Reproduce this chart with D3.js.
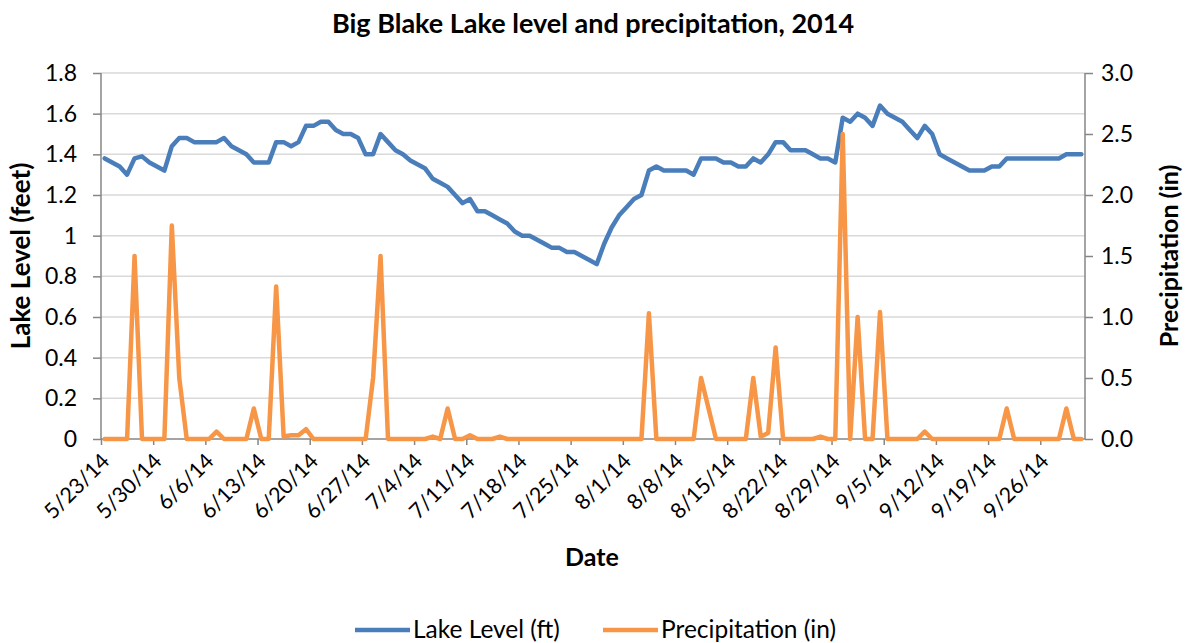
<!DOCTYPE html>
<html>
<head>
<meta charset="utf-8">
<script src="https://cdn.jsdelivr.net/npm/d3@7"></script>
<style>
	body { margin: 0; background: #fff; }
	svg text { font-family: Lato, "Open Sans", sans-serif; fill: #000; }
</style>
</head>
<body>
<div id="chart"></div>
<script>
(function () {
	'use strict';

	// one value per day, from 5/23/14 to 10/1/14
	var startDate = '5/23/14';
	var endDate = '10/2/14';

	var lakeLevel = [
		1.38, 1.36, 1.34, 1.30, 1.38, 1.39, 1.36, 1.34, 1.32, 1.44,
		1.48, 1.48, 1.46, 1.46, 1.46, 1.46, 1.48, 1.44, 1.42, 1.40,
		1.36, 1.36, 1.36, 1.46, 1.46, 1.44, 1.46, 1.54, 1.54, 1.56,
		1.56, 1.52, 1.50, 1.50, 1.48, 1.40, 1.40, 1.50, 1.46, 1.42,
		1.40, 1.37, 1.35, 1.33, 1.28, 1.26, 1.24, 1.20, 1.16, 1.18,
		1.12, 1.12, 1.10, 1.08, 1.06, 1.02, 1.00, 1.00, 0.98, 0.96,
		0.94, 0.94, 0.92, 0.92, 0.90, 0.88, 0.86, 0.96, 1.04, 1.10,
		1.14, 1.18, 1.20, 1.32, 1.34, 1.32, 1.32, 1.32, 1.32, 1.30,
		1.38, 1.38, 1.38, 1.36, 1.36, 1.34, 1.34, 1.38, 1.36, 1.40,
		1.46, 1.46, 1.42, 1.42, 1.42, 1.40, 1.38, 1.38, 1.36, 1.58,
		1.56, 1.60, 1.58, 1.54, 1.64, 1.60, 1.58, 1.56, 1.52, 1.48,
		1.54, 1.50, 1.40, 1.38, 1.36, 1.34, 1.32, 1.32, 1.32, 1.34,
		1.34, 1.38, 1.38, 1.38, 1.38, 1.38, 1.38, 1.38, 1.38, 1.40,
		1.40, 1.40
	];

	var precipitation = [
		0, 0, 0, 0, 1.50, 0, 0, 0, 0, 1.75,
		0.50, 0, 0, 0, 0, 0.06, 0, 0, 0, 0,
		0.25, 0, 0, 1.25, 0.02, 0.03, 0.03, 0.08, 0, 0,
		0, 0, 0, 0, 0, 0, 0.50, 1.50, 0, 0,
		0, 0, 0, 0, 0.02, 0, 0.25, 0, 0, 0.03,
		0, 0, 0, 0.02, 0, 0, 0, 0, 0, 0,
		0, 0, 0, 0, 0, 0, 0, 0, 0, 0,
		0, 0, 0, 1.03, 0, 0, 0, 0, 0, 0,
		0.50, 0.25, 0, 0, 0, 0, 0, 0.50, 0.02, 0.05,
		0.75, 0, 0, 0, 0, 0, 0.02, 0, 0, 2.50,
		0, 1.00, 0, 0, 1.04, 0, 0, 0, 0, 0,
		0.06, 0, 0, 0, 0, 0, 0, 0, 0, 0,
		0, 0.25, 0, 0, 0, 0, 0, 0, 0, 0.25,
		0, 0
	];

	var tickLabels = [
		'5/23/14', '5/30/14', '6/6/14', '6/13/14', '6/20/14', '6/27/14',
		'7/4/14', '7/11/14', '7/18/14', '7/25/14', '8/1/14', '8/8/14',
		'8/15/14', '8/22/14', '8/29/14', '9/5/14', '9/12/14', '9/19/14',
		'9/26/14'
	];

	var levelTicks = [0, 0.2, 0.4, 0.6, 0.8, 1, 1.2, 1.4, 1.6, 1.8];
	var precipTicks = [0, 0.5, 1, 1.5, 2, 2.5, 3];

	var width = 1185, height = 643;
	var plot = { left: 101, right: 1085, top: 73, bottom: 439 };
	var blue = '#4a7ebb', orange = '#f79646', axisGrey = '#868686';

	var parseDate = d3.timeParse('%m/%d/%y');
	var start = parseDate(startDate);
	var days = d3.timeDay.range(start, parseDate(endDate));

	var x = d3.scaleTime()
		.domain([start, parseDate(endDate)])
		.range([plot.left, plot.right]);
	var yLevel = d3.scaleLinear().domain([0, 1.8]).range([plot.bottom, plot.top]);
	var yPrecip = d3.scaleLinear().domain([0, 3]).range([plot.bottom, plot.top]);

	// points sit in the middle of their day
	function dayX(i) {
		return x(d3.timeHour.offset(days[i], 12));
	}

	var svg = d3.select('#chart')
		.append('svg')
		.attr('width', width)
		.attr('height', height);

	svg.append('text')
		.attr('x', 593)
		.attr('y', 33)
		.attr('text-anchor', 'middle')
		.style('font-size', '27px')
		.style('font-weight', 'bold')
		.text('Big Blake Lake level and precipitation, 2014');

	// gridlines
	svg.append('g')
		.selectAll('line')
		.data(levelTicks.slice(1))
		.enter()
		.append('line')
		.attr('x1', plot.left)
		.attr('x2', plot.right)
		.attr('y1', function (d) { return yLevel(d); })
		.attr('y2', function (d) { return yLevel(d); })
		.style('stroke', '#d9d9d9')
		.style('stroke-width', 1.5);

	var leftAxis = svg.append('g')
		.attr('transform', 'translate(' + plot.left + ',0)')
		.call(d3.axisLeft(yLevel)
			.tickValues(levelTicks)
			.tickSize(8)
			.tickPadding(16)
			.tickFormat(function (d) { return String(+d.toFixed(1)); }));

	var rightAxis = svg.append('g')
		.attr('transform', 'translate(' + plot.right + ',0)')
		.call(d3.axisRight(yPrecip)
			.tickValues(precipTicks)
			.tickSize(8)
			.tickPadding(8)
			.tickFormat(d3.format('.1f')));

	var bottomAxis = svg.append('g')
		.attr('transform', 'translate(0,' + plot.bottom + ')')
		.call(d3.axisBottom(x)
			.tickValues(tickLabels.map(parseDate))
			.tickSize(6)
			.tickFormat(d3.timeFormat('%-m/%-d/%y')));

	[leftAxis, rightAxis, bottomAxis].forEach(function (axis) {
		axis.selectAll('.domain').remove();
		axis.selectAll('line')
			.style('stroke', axisGrey)
			.style('stroke-width', 1.5);
		axis.selectAll('text')
			.style('font-size', '23px')
			.style('fill', '#000')
			.style('font-family', 'Lato, "Open Sans", sans-serif');
	});

	bottomAxis.selectAll('text')
		.attr('text-anchor', 'end')
		.attr('x', 0)
		.attr('y', 0)
		.attr('dy', '0.35em')
		.attr('transform', 'translate(4,18) rotate(-45)')
		.style('font-size', '21.5px');

	// plain axis lines
	svg.append('g')
		.selectAll('line')
		.data([
			[plot.left, plot.top, plot.left, plot.bottom],
			[plot.right, plot.top, plot.right, plot.bottom],
			[plot.left, plot.bottom, plot.right, plot.bottom]
		])
		.enter()
		.append('line')
		.attr('x1', function (d) { return d[0]; })
		.attr('y1', function (d) { return d[1]; })
		.attr('x2', function (d) { return d[2]; })
		.attr('y2', function (d) { return d[3]; })
		.style('stroke', axisGrey)
		.style('stroke-width', 1.5);

	var levelLine = d3.line()
		.x(function (d, i) { return dayX(i); })
		.y(function (d) { return yLevel(d); });

	var precipLine = d3.line()
		.x(function (d, i) { return dayX(i); })
		.y(function (d) { return yPrecip(d); });

	svg.append('path')
		.datum(lakeLevel)
		.attr('d', levelLine)
		.style('fill', 'none')
		.style('stroke', blue)
		.style('stroke-width', 4.5)
		.style('stroke-linejoin', 'round')
		.style('stroke-linecap', 'round');

	svg.append('path')
		.datum(precipitation)
		.attr('d', precipLine)
		.style('fill', 'none')
		.style('stroke', orange)
		.style('stroke-width', 4.5)
		.style('stroke-linejoin', 'round')
		.style('stroke-linecap', 'round');

	// axis titles
	svg.append('text')
		.attr('transform', 'translate(30,256) rotate(-90)')
		.attr('text-anchor', 'middle')
		.style('font-size', '26px')
		.style('font-weight', 'bold')
		.text('Lake Level (feet)');

	svg.append('text')
		.attr('transform', 'translate(1178,256) rotate(-90)')
		.attr('text-anchor', 'middle')
		.style('font-size', '25px')
		.style('font-weight', 'bold')
		.text('Precipitation (in)');

	svg.append('text')
		.attr('x', 592)
		.attr('y', 566)
		.attr('text-anchor', 'middle')
		.style('font-size', '25px')
		.style('font-weight', 'bold')
		.text('Date');

	// legend
	var legendItems = [
		{ name: 'Lake Level (ft)', color: blue, x: 355 },
		{ name: 'Precipitation (in)', color: orange, x: 603 }
	];

	var legend = svg.append('g')
		.selectAll('g')
		.data(legendItems)
		.enter()
		.append('g')
		.attr('transform', function (d) { return 'translate(' + d.x + ',630)'; });

	legend.append('line')
		.attr('x1', 0)
		.attr('x2', 55)
		.style('stroke', function (d) { return d.color; })
		.style('stroke-width', 4.5);

	legend.append('text')
		.attr('x', 58)
		.attr('y', 8)
		.style('font-size', '24.5px')
		.text(function (d) { return d.name; });
}());
</script>
</body>
</html>
